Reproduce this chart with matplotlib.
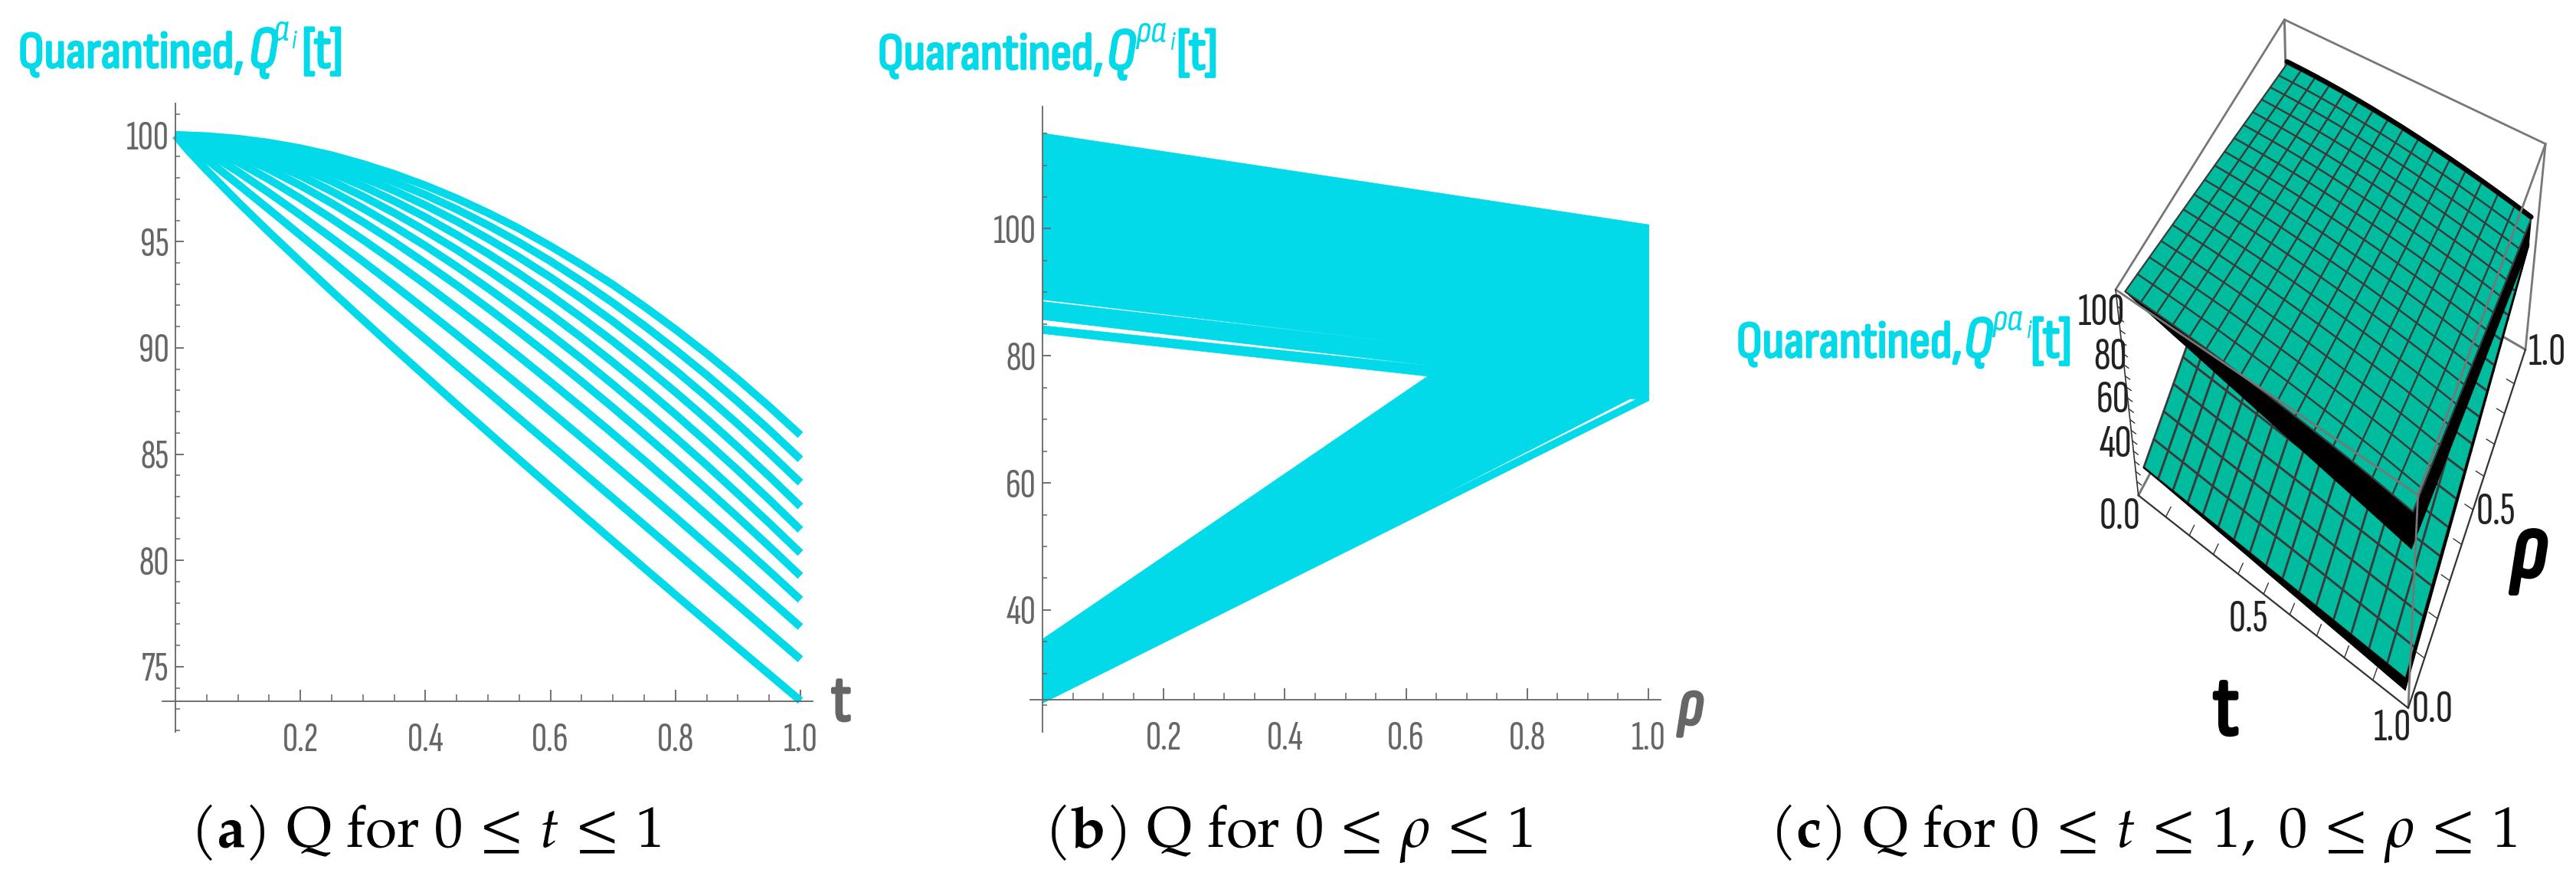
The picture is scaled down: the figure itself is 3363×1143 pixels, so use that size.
import matplotlib
matplotlib.use('Agg')
import matplotlib.pyplot as plt
import matplotlib.patheffects as pe
import numpy as np
from matplotlib.ticker import FixedLocator
from mpl_toolkits.mplot3d.art3d import Line3DCollection

W, H = 3363, 1143
plt.rcParams.update({'mathtext.fontset': 'custom', 'mathtext.rm': 'TeX Gyre Pagella',
                     'mathtext.it': 'TeX Gyre Pagella:italic', 'mathtext.bf': 'TeX Gyre Pagella:bold'})

CYAN = '#02DAEA'
GREY = '#666666'
TEAL = '#00BC9E'
MESH = '#3A3A3A'
TICKFONT = 'Sofia Sans Extra Condensed'
TITLEFONT = ['Sofia Sans Condensed', 'DejaVu Sans']

# ---------- panel (a): Q against t, one row per curve
t_a = [0, .02, .05, .1, .15, .2, .25, .3, .35, .4, .45, .5, .55, .6, .65, .7, .75, .8, .85, .9, .95, 1]
q_a = [
    [100, 99.99, 99.96, 99.84, 99.65, 99.39, 99.06, 98.65, 98.18, 97.64, 97.03, 96.35, 95.61, 94.79, 93.91, 92.97, 91.95, 90.87, 89.73, 88.52, 87.24, 85.90],
    [100, 99.99, 99.94, 99.78, 99.54, 99.22, 98.83, 98.36, 97.81, 97.20, 96.52, 95.77, 94.96, 94.08, 93.13, 92.12, 91.05, 89.91, 88.72, 87.46, 86.14, 84.76],
    [100, 99.98, 99.91, 99.71, 99.41, 99.02, 98.56, 98.01, 97.40, 96.71, 95.96, 95.14, 94.26, 93.32, 92.31, 91.25, 90.12, 88.94, 87.70, 86.41, 85.06, 83.66],
    [100, 99.97, 99.88, 99.61, 99.24, 98.77, 98.23, 97.61, 96.91, 96.15, 95.32, 94.44, 93.49, 92.48, 91.42, 90.31, 89.14, 87.92, 86.65, 85.33, 83.96, 82.54],
    [100, 99.96, 99.82, 99.48, 99.02, 98.47, 97.84, 97.13, 96.35, 95.51, 94.62, 93.66, 92.65, 91.59, 90.48, 89.32, 88.12, 86.87, 85.57, 84.24, 82.86, 81.44],
    [100, 99.93, 99.74, 99.30, 98.74, 98.10, 97.37, 96.57, 95.71, 94.80, 93.83, 92.81, 91.74, 90.63, 89.48, 88.28, 87.05, 85.78, 84.48, 83.13, 81.76, 80.35],
    [100, 99.89, 99.64, 99.07, 98.40, 97.64, 96.81, 95.92, 94.98, 93.98, 92.95, 91.87, 90.75, 89.60, 88.41, 87.19, 85.94, 84.66, 83.35, 82.02, 80.66, 79.27],
    [100, 99.83, 99.47, 98.74, 97.92, 97.03, 96.08, 95.09, 94.06, 92.99, 91.88, 90.75, 89.59, 88.40, 87.19, 85.96, 84.71, 83.43, 82.14, 80.83, 79.50, 78.15],
    [100, 99.72, 99.22, 98.29, 97.29, 96.25, 95.17, 94.07, 92.94, 91.79, 90.62, 89.43, 88.23, 87.01, 85.78, 84.54, 83.29, 82.03, 80.75, 79.47, 78.17, 76.87],
    [100, 99.56, 98.87, 97.70, 96.51, 95.30, 94.09, 92.87, 91.64, 90.41, 89.17, 87.93, 86.68, 85.43, 84.18, 82.93, 81.67, 80.41, 79.15, 77.89, 76.62, 75.35],
    [100, 99.30, 98.36, 96.87, 95.44, 94.05, 92.67, 91.32, 89.98, 88.66, 87.34, 86.04, 84.74, 83.46, 82.18, 80.91, 79.64, 78.38, 77.13, 75.88, 74.64, 73.40],
]
a_xticks = [.2, .4, .6, .8, 1.0]
a_xlabels = ['0.2', '0.4', '0.6', '0.8', '1.0']
a_yticks = [75, 80, 85, 90, 95, 100]
a_xminor = [.05, .1, .15, .25, .3, .35, .45, .5, .55, .65, .7, .75, .85, .9, .95]
a_yminor = [72, 73, 74, 76, 77, 78, 79, 81, 82, 83, 84, 86, 87, 88, 89, 91, 92, 93, 94, 96, 97, 98, 99, 101]

# ---------- panel (b): bands of lines in Q against rho; each is (top at 0, top at 1, low at 0, low at 1)
rho_b = [0, 1]
band_main = [115.1, 100.7, 88.9, 77.5]
band_second = [88.6, 77.7, 85.75, 74.45]
band_third = [84.8, 74.95, 83.55, 73.0]
band_rising = [35.5, 100.6, 25.9, 74.8]
band_low = [26.9, 74.2, 25.4, 73.0]
b_xticks = [.2, .4, .6, .8, 1.0]
b_xlabels = ['0.2', '0.4', '0.6', '0.8', '1.0']
b_yticks = [40, 60, 80, 100]
b_xminor = a_xminor
b_yminor = [25, 30, 35, 45, 50, 55, 65, 70, 75, 85, 90, 95, 105, 110, 115]

# ---------- panel (c): surfaces, edge values along t at rho = 0 and rho = 1
t_c = [i / 16 for i in range(17)]
rho_c = [i / 16 for i in range(17)]
up_r0 = [115, 114.9, 114.8, 114.6, 114.3, 114, 113.5, 113, 112.4, 111.8, 111.1, 110.3, 109.5, 108.6, 107.6, 106.4, 105.2]
up_r1 = [100, 99.93, 99.76, 99.46, 99.06, 98.54, 97.92, 97.18, 96.35, 95.4, 94.35, 93.2, 91.95, 90.6, 89.15, 87.6, 85.9]
dn_r0 = [115, 113.4, 111.9, 110.3, 108.8, 107.2, 105.6, 104.1, 102.5, 101, 99.4, 97.9, 96.3, 94.8, 93.2, 91.6, 90]
dn_r1 = [100, 98, 96.15, 94.4, 92.67, 91, 89.3, 87.7, 86, 84.4, 82.8, 81.2, 79.6, 78.1, 76.5, 74.9, 73.4]
lo_r0 = [35.5, 35.2, 35, 34.7, 34.4, 34.2, 33.9, 33.6, 33.3, 33.1, 32.8, 32.5, 32.2, 31.9, 31.6, 31.3, 31]
lo_r1 = [100, 98.2, 96.5, 94.8, 93.2, 91.6, 90, 88.4, 86.9, 85.3, 83.8, 82.3, 80.8, 79.3, 77.8, 76.3, 74.8]
bt_r0 = [35.5, 34.9, 34.2, 33.6, 33, 32.3, 31.7, 31.1, 30.4, 29.8, 29.2, 28.5, 27.9, 27.3, 26.7, 26, 25.4]
bt_r1 = dn_r1
box_t = [-.02, 1.02]
box_r = [-.02, 1.02]
box_z = [23, 117]
c_tticks = [.1, .2, .3, .4, .5, .6, .7, .8, .9]
c_rticks = [.1, .2, .3, .4, .5, .6, .7, .8, .9]
c_zticks = [30, 35, 40, 45, 50, 55, 60, 65, 70, 75, 80, 85, 90, 95, 100, 105, 110]

fig = plt.figure(figsize=(W / 100, H / 100), dpi=100, facecolor='white')


def axes_px(left, top, right, bottom, **kw):
    return fig.add_axes([left / W, 1 - bottom / H, (right - left) / W, (bottom - top) / H], **kw)


def label(x, y, s, **kw):
    kw.setdefault('va', 'baseline')
    kw.setdefault('ha', 'left')
    return fig.text(x / W, 1 - y / H, s, **kw)


def title(x0, xq, xs, xb, y, sup):
    fat = [pe.withStroke(linewidth=2.0, foreground=CYAN)]
    label(x0, y, 'Quarantined,', family=TITLEFONT, fontsize=49, color=CYAN, path_effects=fat)
    label(xq + 5, y, 'Q', family=TITLEFONT, style='italic', fontsize=56, color=CYAN, path_effects=fat)
    label(xs + 3, y - 35, sup, family=TITLEFONT, style='italic', fontsize=36, color=CYAN)
    label(xs + 3 + (23 if len(sup) == 1 else 45), y - 25, 'i', family=TITLEFONT, style='italic', fontsize=24, color=CYAN)
    label(xb, y, '[t]', family=TITLEFONT, fontsize=54, color=CYAN, path_effects=fat)


def style2d(ax, y_axis_at, xticks, xlabels, yticks, xminor, yminor):
    for s in ('top', 'right'):
        ax.spines[s].set_visible(False)
    ax.spines['left'].set_position(('data', 0))
    ax.spines['bottom'].set_position(('data', y_axis_at))
    for s in ('left', 'bottom'):
        ax.spines[s].set_color(GREY)
        ax.spines[s].set_linewidth(1.3)
    ax.set_xticks(xticks, xlabels)
    ax.set_yticks(yticks, [str(v) for v in yticks])
    ax.xaxis.set_minor_locator(FixedLocator(xminor))
    ax.yaxis.set_minor_locator(FixedLocator(yminor))
    ax.tick_params(axis='x', which='major', direction='in', length=11, width=1.3, color=GREY,
                   labelcolor=GREY, labelsize=40, labelfontfamily=TICKFONT, pad=20)
    ax.tick_params(axis='y', which='major', direction='in', length=8, width=1.3, color=GREY,
                   labelcolor=GREY, labelsize=40, labelfontfamily=TICKFONT, pad=6)
    ax.tick_params(axis='x', which='minor', direction='in', length=6.5, width=1.1, color=GREY)
    ax.tick_params(axis='y', which='minor', direction='in', length=4.5, width=1.1, color=GREY)
    ax.patch.set_visible(False)


CAP = 54
# ---------- panel (a)
ax_a = axes_px(212, 135, 1061, 955)
for row in q_a:
    ax_a.plot(t_a, row, color=CYAN, lw=7.4, solid_capstyle='butt', solid_joinstyle='round', clip_on=False)
ax_a.set_xlim(-17 / 816, 832 / 816)
ax_a.set_ylim(71.93, 101.5)
style2d(ax_a, 73.37, a_xticks, a_xlabels, a_yticks, a_xminor, a_yminor)
title(24, 320, 354, 394, 88, '\u03b1')
label(1085, 940, 't', family=TITLEFONT, fontsize=62, color=GREY,
      path_effects=[pe.withStroke(linewidth=2.5, foreground=GREY)])
label(556, 1105, r"$(\mathbf{a})\ \mathrm{Q\ for}\ 0\,\leq\,t\,\leq\,1$", ha='center', fontsize=CAP, color='black')

# ---------- panel (b)
ax_b = axes_px(1345, 138.5, 2168, 955)
for top0, top1, low0, low1 in (band_main, band_second, band_third, band_rising, band_low):
    ax_b.fill_between(rho_b, [low0, low1], [top0, top1], color=CYAN, lw=0.5)
ax_b.set_xlim(-16 / 791, 807 / 791)
ax_b.set_ylim(20.8, 119.3)
style2d(ax_b, 25.9, b_xticks, b_xlabels, b_yticks, b_xminor, b_yminor)
title(1146, 1440, 1479, 1536, 90, '\u03c1\u03b1')
label(2190, 945, '\u03c1', family=TITLEFONT, style='italic', fontsize=62, color=GREY,
      path_effects=[pe.withStroke(linewidth=2.5, foreground=GREY)])
label(1682, 1105, r"$(\mathbf{b})\ \mathrm{Q\ for}\ 0\,\leq\,\rho\,\leq\,1$", ha='center', fontsize=CAP, color='black')

# ---------- panel (c): projection fitted to where the eight box corners lie in the reference
ax_c = fig.add_axes([2363 / W, 1 - 1000 / H, 1000 / W, 1000 / H], projection='3d', computed_zorder=False)
ax_c.set_axis_off()
ax_c.patch.set_visible(False)
corners = [
    (0, 0, 0, 2787.3, 641.5), (1, 0, 0, 3147.8, 925.6), (1, 1, 0, 3301.5, 447), (0, 1, 0, 2985, 289),
    (0, 0, 1, 2766.7, 378), (1, 0, 1, 3152.5, 650), (1, 1, 1, 3318, 193), (0, 1, 1, 2986, 18),
]


def fitted_proj():
    world = np.array([[box_t[a], box_r[b], box_z[c], 1.0] for a, b, c, _, _ in corners])
    disp = np.array([[u, H - v] for *_, u, v in corners], dtype=float)
    uv = ax_c.transData.inverted().transform(disp)
    rows = []
    for X, (u, v) in zip(world, uv):
        rows.append(np.r_[X, 0, 0, 0, 0, -u * X])
        rows.append(np.r_[0, 0, 0, 0, X, -v * X])
    sc = np.array([1, 1, 1 / 100, 1.0] * 3)
    A = np.array(rows) * sc
    p = np.linalg.svd(A)[2][-1] * sc
    p = p.reshape(3, 4)
    return np.array([p[0], p[1], [0, 0, 1e-3 * p[2, 3], 0], p[2]])


ax_c.get_proj = fitted_proj


def blend(edge0, edge1):
    e0, e1 = np.array(edge0), np.array(edge1)
    return np.array([e0 + r * (e1 - e0) for r in rho_c])


T, R = np.meshgrid(t_c, rho_c)


def box_lines(segs, color, lw, z):
    coll = Line3DCollection([np.array(s, dtype=float) for s in segs], colors=color, linewidths=lw,
                            zorder=z, capstyle='round')
    ax_c.add_collection3d(coll)


t0, t1 = box_t
r0, r1 = box_r
z0, z1 = box_z
# back edges
box_lines([[(t0, r0, z0), (t0, r1, z0)], [(t1, r1, z0), (t0, r1, z0)], [(t0, r1, z0), (t0, r1, z1)]], '#777777', 2.2, 1)
# lower sheet, its black side walls
ax_c.plot_surface(T, R, blend(lo_r0, lo_r1), color=TEAL, shade=False, edgecolor=MESH, linewidth=2.0,
                  rstride=1, cstride=1, zorder=2, antialiased=True)
ax_c.plot_surface(np.array([t_c, t_c]), np.zeros((2, 17)), np.array([lo_r0, bt_r0]), color='black', shade=False,
                  edgecolor='black', linewidth=1, rstride=1, cstride=1, zorder=3)
ax_c.plot_surface(np.ones((2, 17)), np.array([rho_c, rho_c]),
                  np.array([blend(lo_r0, lo_r1)[:, -1], blend(bt_r0, bt_r1)[:, -1]]),
                  color='black', shade=False, edgecolor='black', linewidth=1, rstride=1, cstride=1, zorder=3)
# wall of the upper sheet
ax_c.plot_surface(np.array([t_c, t_c]), np.zeros((2, 17)), np.array([up_r0, dn_r0]), color='black', shade=False,
                  edgecolor='black', linewidth=1, rstride=1, cstride=1, zorder=4)
ax_c.plot_surface(np.ones((2, 17)), np.array([rho_c, rho_c]),
                  np.array([blend(up_r0, up_r1)[:, -1], blend(dn_r0, dn_r1)[:, -1]]),
                  color='black', shade=False, edgecolor='black', linewidth=1, rstride=1, cstride=1, zorder=4)
# upper sheet
ax_c.plot_surface(T, R, blend(up_r0, up_r1), color=TEAL, shade=False, edgecolor=MESH, linewidth=1.6,
                  rstride=1, cstride=1, zorder=5)
box_lines([np.column_stack([t_c, [1] * 17, np.array(up_r1) + 1.0])], 'black', 4.5, 6)
# front edges
box_lines([[(t0, r0, z1), (t0, r1, z1)], [(t0, r1, z1), (t1, r1, z1)], [(t1, r1, z1), (t1, r0, z1)],
           [(t1, r0, z1), (t0, r0, z1)], [(t1, r1, z1), (t1, r1, z0)], [(t1, r0, z1), (t1, r0, z0)]],
          '#777777', 2.0, 7)
box_lines([[(t0, r0, z0), (t0, r0, z1)]], '#333333', 1.2, 7)
box_lines([[(t0, r0, z0), (t1, r0, z0)], [(t1, r0, z0), (t1, r1, z0)]], '#333333', 1.6, 7)
box_lines([[(v, r0, z0), (v, r0 + .03, z0)] for v in c_tticks], '#333333', 1.0, 7)
box_lines([[(t1, v, z0), (t1 - .03, v, z0)] for v in c_rticks], '#333333', 1.0, 7)
box_lines([[(t0, r0, v), (t0 + .02, r0, v)] for v in c_zticks], '#333333', 1.0, 7)

for x, y, s in ((2743, 408, '100'), (2755, 466, '80'), (2758, 523, '60'), (2762, 581, '40'),
                (2768, 674, '0.0'), (2935, 808, '0.5'), (3123, 951, '1.0'),
                (3176, 926, '0.0'), (3258, 669, '0.5'), (3325, 461, '1.0')):
    label(x, y, s, ha='center', va='center', family=TICKFONT, fontsize=44, color='#222222')
title(2267, 2559, 2597, 2651, 466, '\u03c1\u03b1')
label(2906, 958, 't', ha='center', family=TITLEFONT, fontsize=80, color='black',
      path_effects=[pe.withStroke(linewidth=3.5, foreground='black')])
label(3302, 752, '\u03c1', ha='center', family=TITLEFONT, style='italic', fontsize=88, color='black',
      path_effects=[pe.withStroke(linewidth=3.5, foreground='black')])
label(2798, 1105, r"$(\mathbf{c})\ \mathrm{Q\ for}\ 0\,\leq\,t\,\leq\,1,\ 0\,\leq\,\rho\,\leq\,1$",
      ha='center', fontsize=CAP, color='black')

fig.savefig('out.png', dpi=100, facecolor='white')
